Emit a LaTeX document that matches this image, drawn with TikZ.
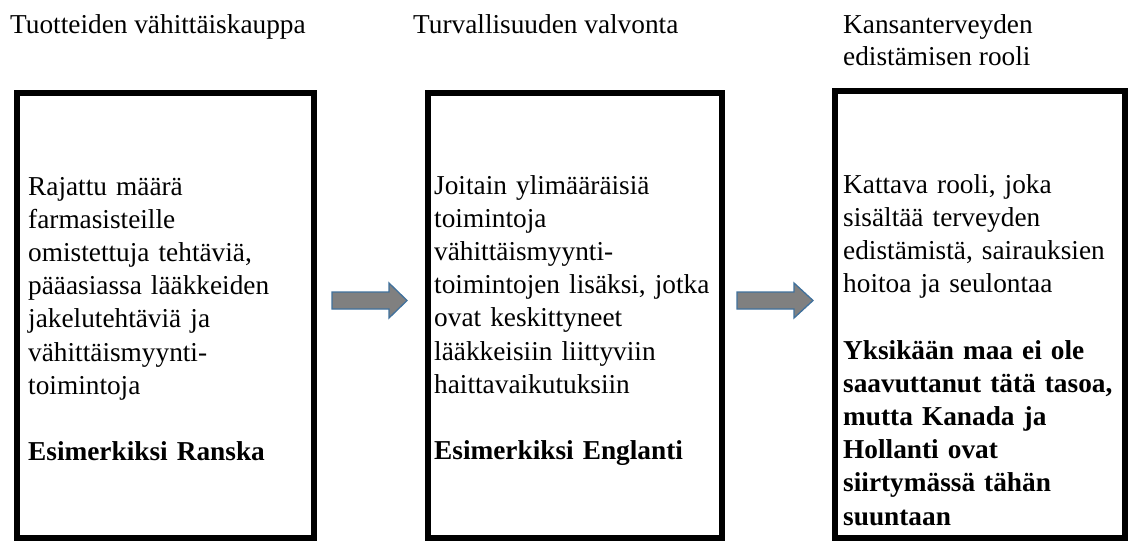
\documentclass[tikz,border=0pt]{standalone}
\usepackage{fontspec}
\setmainfont{Liberation Serif}
\definecolor{arrowfill}{HTML}{808080}
\definecolor{arrowline}{HTML}{41719C}
\tikzset{
  panel/.style={draw=black, line width=6pt},
  title/.style={anchor=base west, inner sep=0pt, font=\fontsize{27.3}{33}\selectfont},
  body/.style={anchor=base west, inner sep=0pt, text width=280pt, align=left, font=\fontsize{27.3}{33.2}\selectfont},
  flowarrow/.style={fill=arrowfill, draw=arrowline, line width=1.3pt, line join=miter}
}
\begin{document}
\begin{tikzpicture}[x=1pt,y=-1pt]
\useasboundingbox (0,0) rectangle (1129,541);
% panels
\draw[panel] (17,93) rectangle (314,538);
\draw[panel] (428,93) rectangle (722,538);
\draw[panel] (835,91) rectangle (1125,538);
% titles
\node[title] (t1) at (10,33) {Tuotteiden vähittäiskauppa};
\node[title] (t2) at (413,33) {Turvallisuuden valvonta};
\node[title] (t3a) at (843,33) {Kansanterveyden};
\node[title] (t3b) at (843,65) {edistämisen rooli};
% bodies
\node[body] (b1) at (28,195) {Rajattu määrä\\farmasisteille\\omistettuja tehtäviä,\\pääasiassa lääkkeiden\\jakelutehtäviä ja\\vähittäismyynti-\\toimintoja\\[33.2pt]\textbf{Esimerkiksi Ranska}};
\node[body] (b2) at (434,194) {Joitain ylimääräisiä\\toimintoja\\vähittäismyynti-\\toimintojen lisäksi, jotka\\ovat keskittyneet\\lääkkeisiin liittyviin\\haittavaikutuksiin\\[33.2pt]\textbf{Esimerkiksi Englanti}};
\node[body] (b3) at (843,193) {Kattava rooli, joka\\sisältää terveyden\\edistämistä, sairauksien\\hoitoa ja seulontaa\\[33.2pt]\textbf{Yksikään maa ei ole}\\\textbf{saavuttanut tätä tasoa,}\\\textbf{mutta Kanada ja}\\\textbf{Hollanti ovat}\\\textbf{siirtymässä tähän}\\\textbf{suuntaan}};
% arrows
\draw[flowarrow] (332,292) -- (389,292) -- (389,283) -- (407,300.5) -- (389,318) -- (389,309) -- (332,309) -- cycle;
\draw[flowarrow] (737,292) -- (794,292) -- (794,283) -- (813,300.5) -- (794,318) -- (794,309) -- (737,309) -- cycle;
\end{tikzpicture}
\end{document}
